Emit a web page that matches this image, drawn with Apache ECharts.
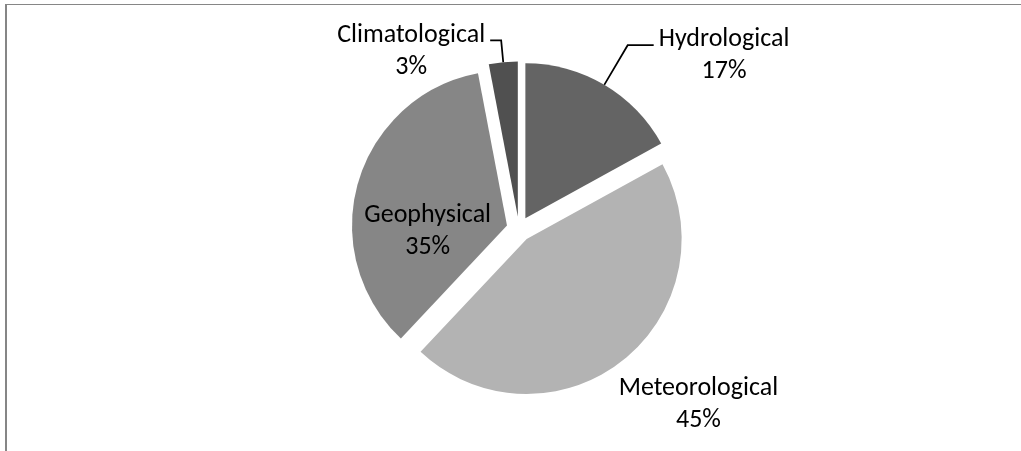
<!DOCTYPE html>
<html>
<head>
<meta charset="utf-8">
<title>Disaster types</title>
<script src="https://cdn.jsdelivr.net/npm/echarts@6/dist/echarts.min.js"></script>
<style>
  html, body { margin: 0; padding: 0; background: #ffffff; }
  #frame {
    position: absolute; left: 5px; top: 4px; width: 1016px; height: 447px;
    box-sizing: border-box;
    border-left: 2px solid #868686; border-top: 1px solid #868686;
  }
  #chart { position: absolute; left: 0; top: 0; width: 1021px; height: 451px; }
</style>
</head>
<body>
<div id="frame"></div>
<div id="chart"></div>
<script>
// Share of disasters by type (percent)
const categories = ['Hydrological', 'Meteorological', 'Geophysical', 'Climatological'];
const shares = [17, 45, 35, 3];
const sliceColors = ['#646464', '#b3b3b3', '#868686', '#505050'];

const FONT = 'Carlito, Lato, "Open Sans", sans-serif';

// label placement per slice: leader line lengths, text padding, extra shift
const labelSetup = {
  Hydrological:   { position: 'outside', line: true,  length: 46, length2: 26, padding: [20, 0, 0, 0] },
  Meteorological: { position: 'outside', line: false, length: 0,  length2: 0,  padding: 0, dx: -8, dy: 43 },
  Geophysical:    { position: 'inside',  line: false, length: 0,  length2: 0,  padding: 0, dx: -2, dy: 28 },
  Climatological: { position: 'outside', line: true,  length: 22, length2: 11, padding: [22, 0, 0, 0] }
};

const pieData = categories.map((name, i) => {
  const s = labelSetup[name];
  return {
    name: name,
    value: shares[i],
    selected: true,
    itemStyle: { color: sliceColors[i] },
    label: { position: s.position, padding: s.padding },
    labelLine: { show: s.line, length: s.length, length2: s.length2 }
  };
});

const chart = echarts.init(document.getElementById('chart'), null, { renderer: 'canvas' });

chart.setOption({
  animation: false,
  backgroundColor: 'transparent',
  series: [{
    type: 'pie',
    center: [519, 229],
    radius: 155,
    startAngle: 90,
    clockwise: true,
    selectedMode: 'multiple',
    selectedOffset: 12.5,
    avoidLabelOverlap: false,
    itemStyle: { borderWidth: 0 },
    select: { itemStyle: { borderWidth: 0 } },
    emphasis: { disabled: true },
    label: {
      show: true,
      distanceToLabelLine: 5,
      formatter: p => '{t|' + p.name + '}\n{t|' + Math.round(p.percent) + '%}',
      rich: {
        t: { align: 'center', fontFamily: FONT, fontSize: 26, lineHeight: 32, color: '#000000' }
      }
    },
    labelLine: {
      show: true,
      smooth: false,
      lineStyle: { color: '#000000', width: 1.75 }
    },
    labelLayout: params => {
      const s = labelSetup[categories[params.dataIndex]];
      return { dx: s.dx || 0, dy: s.dy || 0 };
    },
    data: pieData
  }]
});
</script>
</body>
</html>
